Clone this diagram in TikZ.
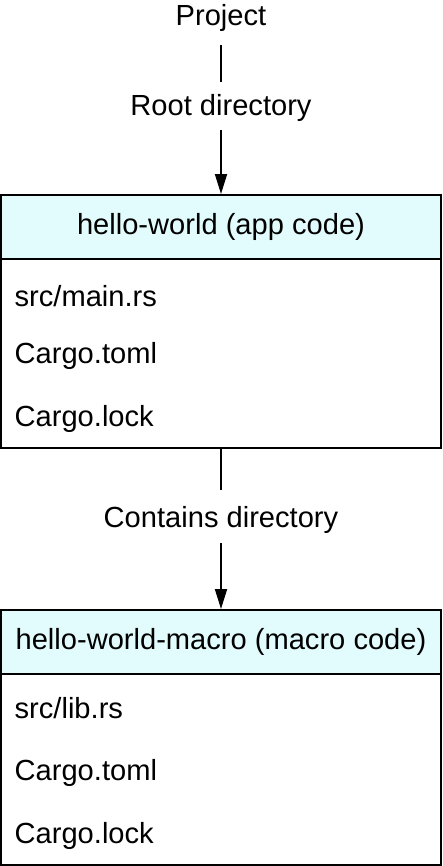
\documentclass[tikz,border=0pt]{standalone}
\usepackage{fontspec}
\setmainfont{Liberation Sans}
\usetikzlibrary{arrows.meta}
\definecolor{headcyan}{HTML}{E2FBFC}
\tikzset{
    label/.style={font=\fontsize{20.7}{24}\selectfont, inner sep=0pt},
    header/.style={draw, line width=1.4pt, fill=headcyan, minimum width=11cm, minimum height=1.6cm, font=\fontsize{20.7}{24}\selectfont},
    filebox/.style={draw, line width=1.4pt, minimum width=11cm, inner sep=0pt},
    file/.style={font=\fontsize{20.7}{24}\selectfont, anchor=west, inner sep=0pt},
    link/.style={line width=1.3pt},
    arrow/.style={link, -{Triangle[length=0.5cm, width=0.3cm]}}
}
\begin{document}
\begin{tikzpicture}[scale=1.0]
        \useasboundingbox (0,0) rectangle (11.05,21.65);

        % Prosjekt og rotmappe
        \node[label] (project) at (5.525,21.21) {Project};
        \node[label] (root) at (5.525,18.96) {Root directory};

        % Boks for app-kode
        \node[filebox, minimum height=4.725cm] (appbody) at (5.525,12.8125) {};
        \node[header] (app) at (5.525,15.975) {hello-world (app code)};
        \node[file] (appmain) at (0.36,14.25) {src/main.rs};
        \node[file] (apptoml) at (0.36,12.76) {Cargo.toml};
        \node[file] (applock) at (0.36,11.17) {Cargo.lock};

        \node[label] (contains) at (5.525,8.66) {Contains directory};

        % Boks for makro-kode
        \node[filebox, minimum height=4.775cm] (macrobody) at (5.525,2.4125) {};
        \node[header] (macro) at (5.525,5.6) {hello-world-macro (macro code)};
        \node[file] (macrolib) at (0.36,3.95) {src/lib.rs};
        \node[file] (macrotoml) at (0.36,2.33) {Cargo.toml};
        \node[file] (macrolock) at (0.36,0.75) {Cargo.lock};

        % Piler
        \draw[link] ([yshift=-0.35cm]project.south) -- ([yshift=0.3cm]root.north);
        \draw[arrow] ([yshift=-0.22cm]root.south) -- (app.north);
        \draw[link] (appbody.south) -- ([yshift=0.4cm]contains.north);
        \draw[arrow] ([yshift=-0.25cm]contains.south) -- (macro.north);
    \end{tikzpicture}
\end{document}
